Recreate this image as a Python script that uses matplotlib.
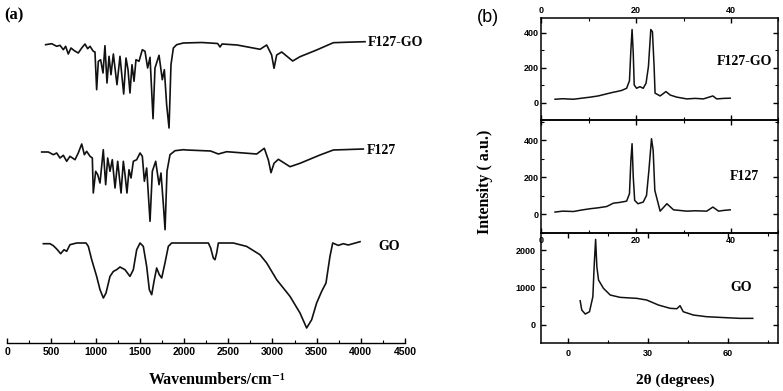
import matplotlib
matplotlib.use("Agg")
import matplotlib.pyplot as plt
from matplotlib.ticker import MultipleLocator

plt.rcParams["font.family"] = "Liberation Sans"
plt.rcParams["font.weight"] = "bold"

# ---------------- FTIR data (panel a) ----------------
f127go_wn = [434, 502, 559, 596, 634, 660, 690, 721, 758, 803, 842, 879, 909, 936, 973, 992,
             1011, 1030, 1056, 1083, 1105, 1128, 1151, 1173, 1200, 1241, 1275, 1317, 1343, 1366,
             1388, 1411, 1434, 1456, 1490, 1528, 1558, 1588, 1615, 1649, 1671, 1717, 1754, 1777,
             1803, 1830, 1852, 1879, 1916, 1992, 2200, 2380, 2407, 2430, 2600, 2860, 2935, 2991,
             3018, 3048, 3105, 3229, 3312, 3500, 3689, 3850, 4048]
f127go_T = [97.3, 98.3, 95.7, 96.7, 92.3, 95.7, 88, 94, 91.3, 89, 94, 98, 93.3, 95.7, 90.7, 90,
            52.3, 80.7, 82.3, 69, 96.3, 59, 85.7, 67.3, 88, 57.3, 85.7, 48, 84, 72.3,
            49, 77.3, 60.7, 82.3, 80.7, 92.3, 90.7, 74, 84.7, 23.3, 74, 86.7, 62.3, 72.3,
            37.3, 14, 77.3, 94, 97.3, 99, 99.5, 98.5, 95, 98, 97, 92.7, 97, 87,
            73.7, 87, 90, 81, 85.3, 92, 99.3, 99.8, 100.3]

f127_wn = [389, 464, 521, 559, 596, 634, 672, 709, 766, 803, 842, 872, 898, 936, 962, 973,
           1000, 1023, 1049, 1086, 1113, 1136, 1162, 1188, 1219, 1249, 1287, 1313, 1332, 1354,
           1377, 1400, 1426, 1464, 1502, 1528, 1551, 1577, 1615, 1641, 1679, 1717, 1739, 1766,
           1785, 1807, 1841, 1898, 1992, 2030, 2300, 2388, 2483, 2822, 2908, 2954, 2984, 3018,
           3067, 3199, 3312, 3538, 3689, 4028]
f127_T = [98, 98, 95.3, 97, 92, 94.7, 88.7, 93.7, 90.3, 97, 106, 95.3, 98.7, 93.7, 92, 57,
          78.7, 75.3, 67, 100.3, 65.3, 92, 78.7, 90.3, 62, 88.7, 57, 88.7, 75.3, 57,
          80.3, 72, 88.7, 90.3, 97, 93.7, 68.7, 82, 28.7, 78.7, 88.7, 65.3, 77, 45.3,
          20.3, 78.7, 95.3, 99.3, 100.3, 100, 99, 96, 98.3, 96, 101.7, 90, 77.3, 86.7,
          90.7, 83.3, 86.7, 95, 100, 101]

go_wn = [408, 483, 521, 559, 604, 642, 672, 709, 785, 891, 917, 955, 1011, 1049, 1087, 1117,
         1162, 1200, 1237, 1275, 1332, 1388, 1426, 1464, 1502, 1539, 1577, 1607, 1634, 1660,
         1690, 1720, 1747, 1784, 1822, 1860, 2275, 2301, 2331, 2350, 2369, 2388, 2557, 2708,
         2859, 2935, 3048, 3199, 3312, 3387, 3444, 3500, 3557, 3606, 3651, 3682, 3745, 3802,
         3858, 3991]
go_T = [99.3, 99.3, 97.3, 94, 89.3, 93.3, 91.7, 98.3, 100, 100, 96.6, 83.3, 66.6, 53.3, 45, 50,
        66.6, 71.6, 73.3, 76, 73.3, 66.6, 73.3, 93.3, 100, 96.6, 76.6, 53.3, 48.3, 61.6,
        75, 68.3, 65, 80, 96.6, 100, 100, 95, 85, 83.3, 90, 100, 100, 96.6,
        88.3, 80, 63.3, 46.6, 30, 15, 23.3, 40, 51.6, 60, 86.6, 100, 97.6, 99.3,
        98, 101.3]

ftir_names = ["F127-GO", "F127", "GO"]
wn_ticks = [0, 500, 1000, 1500, 2000, 2500, 3000, 3500, 4000, 4500]

# ---------------- XRD data (panel b) ----------------
xrd_f127go_2t = [2.9, 4.5, 6.8, 8.5, 10.3, 12.0, 13.8, 15.0, 15.9, 17.0, 18.0, 18.6, 18.9, 19.15,
                 19.4, 19.6, 20.1, 20.8, 21.5, 22.1, 22.6, 23.1, 23.45, 23.8, 24.0, 25.07, 26.3,
                 27.2, 28.6, 30.7, 32.5, 34.2, 36.2, 37.0, 38.5, 39.85]
xrd_f127go_I = [19, 22, 19, 25, 31, 38, 50, 58, 63, 70, 82, 125, 301, 419,
                282, 101, 82, 91, 82, 111, 206, 419, 406, 206, 54, 38, 63,
                43, 31, 21, 24, 21, 38, 21, 24, 25]

xrd_f127_2t = [2.9, 4.5, 6.8, 8.5, 10.3, 12.0, 13.8, 15.2, 16.5, 18.0, 18.6, 18.9, 19.15, 19.4,
               19.7, 20.4, 21.5, 22.2, 22.7, 23.25, 23.6, 23.95, 25.07, 26.5, 27.9, 30.7, 32.5,
               34.9, 36.2, 37.4, 38.5, 39.85]
xrd_f127_I = [13, 18, 16, 24, 31, 36, 43, 61, 65, 72, 112, 292, 382, 202,
              76, 58, 67, 103, 238, 409, 346, 130, 18, 58, 25, 18, 20,
              18, 40, 18, 22, 25]

xrd_go_2t = [4.6, 5.2, 6.5, 8.1, 9.36, 9.9, 10.4, 10.86, 11.5, 13.35, 15.9, 19.6, 25.9, 29.6,
             34.0, 38.4, 40.9, 42.1, 43.3, 47.1, 52.1, 59.6, 64.6, 69.4]
xrd_go_I = [643, 394, 287, 349, 751, 1646, 2289, 1556, 1198, 975, 796, 734, 707, 662,
            528, 440, 429, 510, 349, 260, 215, 188, 171, 171]

W, H = 783, 391
fig = plt.figure(figsize=(W / 100, H / 100), dpi=100)

def frac(x0, y0, x1, y1):
    return [x0 / W, 1 - y1 / H, (x1 - x0) / W, (y1 - y0) / H]

serif_b = dict(family=["Liberation Serif", "DejaVu Serif"], weight="bold")
lc = "#111111"

# ---------------- panel (a) ----------------
axa = fig.add_axes(frac(7.3, 10, 405, 343))
offsets = [201, 93, 0]
for wn, T, off in zip([f127go_wn, f127_wn, go_wn], [f127go_T, f127_T, go_T], offsets):
    axa.plot(wn, [t + off for t in T], color=lc, lw=1.2)
axa.set_xlim(0, 4500)
axa.set_ylim(0, 333)
for s in ["top", "left", "right"]:
    axa.spines[s].set_visible(False)
axa.spines["bottom"].set_linewidth(1.0)
axa.set_yticks([])
axa.set_xticks(wn_ticks)
axa.xaxis.set_minor_locator(MultipleLocator(250))
axa.tick_params(axis="x", which="major", direction="in", length=3.5, width=1.0, pad=3,
                labelsize=7.5)
axa.tick_params(axis="x", which="minor", direction="in", length=2, width=0.8)
axa.text(4081, 301, ftir_names[0], ha="left", va="center", fontsize=10, **serif_b)
axa.text(4070, 193, ftir_names[1], ha="left", va="center", fontsize=10, **serif_b)
axa.text(4195, 97, ftir_names[2], ha="left", va="center", fontsize=10, **serif_b)
fig.text(217 / W, 1 - 380 / H, "Wavenumbers/cm\u207b\u00b9", ha="center", va="center",
         fontsize=11.5, **serif_b)
fig.text(14 / W, 1 - 15 / H, "(a)", ha="center", va="center", fontsize=12, **serif_b)

# ---------------- panel (b) ----------------
ax3 = fig.add_axes(frac(541.3, 233, 778.3, 343))
ax1 = fig.add_axes(frac(541.3, 18, 778.3, 120))
ax2 = fig.add_axes(frac(541.3, 120, 778.3, 233))
ax2.set_facecolor("none")

ax1.plot(xrd_f127go_2t, xrd_f127go_I, color=lc, lw=1.1)
ax2.plot(xrd_f127_2t, xrd_f127_I, color=lc, lw=1.1)
ax3.plot(xrd_go_2t, xrd_go_I, color=lc, lw=1.1)

ax1.set_xlim(0, 50); ax1.set_ylim(-100, 485)
ax2.set_xlim(0, 50); ax2.set_ylim(-100, 510)
ax3.set_xlim(-10, 79); ax3.set_ylim(-490, 2460)

for ax in (ax1, ax2):
    ax.set_xticks([0, 20, 40])
    ax.xaxis.set_minor_locator(MultipleLocator(10))
    ax.set_yticks([0, 200, 400])
    ax.yaxis.set_minor_locator(MultipleLocator(100))
ax3.set_xticks([0, 30, 60])
ax3.xaxis.set_minor_locator(MultipleLocator(15))
ax3.set_yticks([0, 1000, 2000])
ax3.yaxis.set_minor_locator(MultipleLocator(500))

for ax in (ax1, ax2, ax3):
    for s in ax.spines.values():
        s.set_linewidth(1.1)
    ax.tick_params(which="both", direction="in", top=True, right=True, labelright=False,
                   labelsize=6.5)
    ax.tick_params(which="major", length=3.5, width=1.0, pad=2)
    ax.tick_params(which="minor", length=2, width=0.8)

ax1.tick_params(labeltop=True, labelbottom=False)
ax2.tick_params(labeltop=False, labelbottom=True)
ax3.tick_params(labeltop=False, labelbottom=True, pad=4)

ax1.text(37.1, 233, "F127-GO", ha="left", va="center", fontsize=10, **serif_b)
ax2.text(39.85, 205, "F127", ha="left", va="center", fontsize=10, **serif_b)
ax3.text(60.9, 1003, "GO", ha="left", va="center", fontsize=10, **serif_b)

fig.text(485 / W, 1 - 182 / H, "Intensity ( a.u.)", rotation=90, ha="center", va="center",
         fontsize=11.5, **serif_b)
fig.text(675 / W, 1 - 380 / H, "2\u03b8 (degrees)", ha="center", va="center",
         fontsize=11, **serif_b)
fig.text(488 / W, 1 - 17 / H, "(b)", ha="center", va="center", fontsize=13,
         family="Liberation Sans", weight="normal")

fig.savefig("out.png", dpi=100)
